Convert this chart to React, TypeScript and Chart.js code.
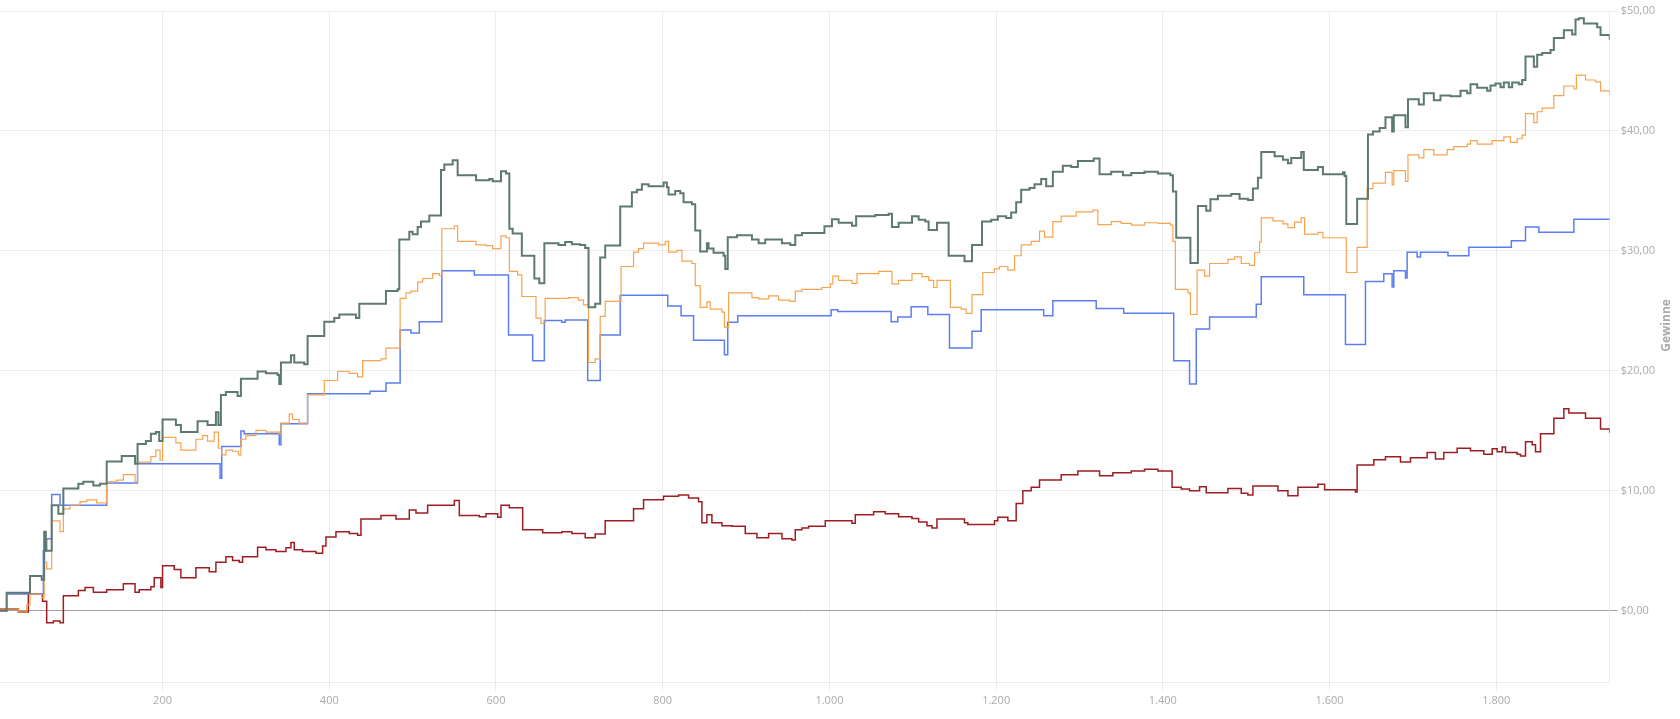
import { useEffect, useRef } from 'react';
import { Chart, registerables, ChartConfiguration, Plugin } from 'chart.js';

Chart.register(...registerables);

// cumulative profit per trade number as [trade, value] step points
const totalProfit: [number, number][] = [
  [5, 0], [13, 1.5], [41, 2.9], [55, 2.6], [58, 6.6], [60, 5.0], [67, 8.8], [75, 8.1], [81, 10.2],
  [99, 10.6], [105, 10.75], [117, 10.45], [125, 10.6], [133, 12.45], [151, 12.9], [167, 12.25],
  [170, 13.9], [180, 14.15], [186, 14.75], [192, 14.9], [196, 14.15], [200, 15.95], [216, 15.5],
  [222, 14.9], [242, 15.8], [254, 15.5], [264, 16.55], [267, 15.5], [270, 18.0], [276, 18.25],
  [290, 17.9], [294, 19.35], [314, 19.95], [324, 19.8], [338, 19.65], [340, 18.9], [342, 20.7],
  [354, 21.3], [358, 20.7], [370, 20.55], [374, 22.9], [394, 24.1], [406, 24.4], [412, 24.7],
  [432, 24.4], [436, 25.6], [468, 26.65], [482, 26.8], [484, 30.95], [496, 31.6], [500, 31.4],
  [506, 32.0], [510, 32.45], [520, 32.95], [534, 36.75], [538, 37.2], [548, 37.55], [554, 36.3],
  [576, 35.9], [592, 36.0], [596, 35.8], [606, 36.65], [612, 36.45], [616, 31.85], [620, 31.45],
  [631, 29.6], [646, 27.7], [652, 27.3], [658, 30.65], [675, 30.5], [683, 30.75], [691, 30.55],
  [701, 30.5], [707, 30.25], [711, 25.3], [719, 25.6], [725, 29.45], [731, 30.45], [749, 33.7],
  [763, 34.9], [769, 35.1], [775, 35.55], [783, 35.4], [801, 35.7], [805, 35.3], [807, 34.7],
  [815, 35.0], [821, 34.8], [825, 34.05], [835, 33.9], [839, 31.7], [845, 29.95], [853, 30.65],
  [855, 30.2], [861, 29.85], [873, 29.6], [875, 28.5], [878, 31.15], [889, 31.3], [907, 30.95],
  [915, 30.65], [923, 30.95], [943, 30.65], [953, 30.5], [959, 31.3], [967, 31.5], [994, 32.05],
  [1003, 32.65], [1011, 32.35], [1027, 32.1], [1032, 32.9], [1055, 33.0], [1071, 33.1],
  [1075, 32.0], [1083, 32.35], [1099, 32.9], [1107, 32.6], [1115, 32.45], [1119, 31.75],
  [1129, 32.35], [1143, 29.6], [1162, 29.15], [1171, 30.5], [1183, 32.45], [1194, 32.6],
  [1202, 32.9], [1212, 32.75], [1218, 33.2], [1224, 34.05], [1230, 35.1], [1240, 35.25],
  [1246, 35.55], [1254, 36.0], [1260, 35.4], [1268, 36.6], [1280, 37.1], [1290, 37.0],
  [1298, 37.5], [1317, 37.7], [1324, 36.4], [1338, 36.6], [1352, 36.3], [1362, 36.5],
  [1378, 36.6], [1394, 36.45], [1409, 36.3], [1412, 34.95], [1416, 31.1], [1433, 29.0],
  [1442, 33.75], [1452, 33.35], [1457, 34.3], [1466, 34.6], [1482, 34.75], [1492, 34.35],
  [1502, 34.25], [1508, 35.2], [1514, 36.1], [1518, 38.25], [1534, 37.9], [1544, 37.6],
  [1550, 37.3], [1554, 37.75], [1566, 38.25], [1569, 36.75], [1586, 37.0], [1592, 36.4],
  [1616, 36.55], [1618, 36.25], [1620, 32.25], [1633, 34.35], [1646, 39.7], [1652, 39.95],
  [1660, 40.25], [1667, 41.15], [1675, 39.95], [1677, 41.3], [1691, 40.3], [1694, 42.65],
  [1707, 42.2], [1713, 43.15], [1725, 42.55], [1733, 42.95], [1745, 42.9], [1757, 43.35],
  [1765, 43.15], [1769, 43.9], [1777, 43.6], [1789, 43.35], [1793, 43.8], [1799, 43.95],
  [1805, 43.65], [1809, 44.05], [1815, 43.65], [1819, 44.05], [1827, 43.9], [1831, 44.25],
  [1835, 46.2], [1845, 45.35], [1849, 46.35], [1855, 46.5], [1865, 46.75], [1869, 47.75],
  [1881, 48.4], [1891, 48.05], [1895, 49.3], [1899, 49.4], [1905, 48.95], [1921, 48.65],
  [1925, 48.0], [1936, 47.6],
];

const orangeProfit: [number, number][] = [
  [5, 0.15], [27, -0.1], [37, 0.5], [41, 1.4], [55, 1.1], [58, 4.05], [61, 3.5], [67, 7.5],
  [77, 6.6], [81, 8.5], [89, 8.8], [101, 9.1], [109, 9.25], [121, 9.0], [133, 10.75],
  [145, 10.9], [153, 11.35], [167, 10.75], [170, 12.4], [186, 12.85], [192, 13.4], [197, 12.55],
  [200, 14.45], [216, 14.0], [222, 13.4], [240, 14.3], [248, 14.6], [254, 14.15], [262, 14.9],
  [267, 13.55], [271, 13.0], [276, 13.4], [284, 13.3], [291, 13.0], [294, 14.3], [300, 14.6],
  [312, 15.05], [324, 14.9], [340, 14.75], [342, 15.65], [352, 16.4], [356, 15.95], [364, 15.65],
  [374, 18.0], [394, 19.2], [410, 19.95], [424, 19.8], [434, 19.5], [440, 20.85], [462, 21.0],
  [468, 21.9], [485, 26.05], [492, 26.5], [498, 26.65], [506, 27.4], [512, 27.7], [524, 28.1],
  [532, 27.95], [535, 31.85], [550, 32.1], [554, 30.8], [576, 30.5], [588, 30.45], [596, 30.2],
  [606, 31.25], [612, 31.1], [616, 28.3], [626, 28.0], [631, 26.2], [648, 24.4], [654, 23.95],
  [659, 26.05], [687, 26.1], [699, 25.9], [705, 25.5], [711, 20.7], [719, 21.0], [725, 24.55],
  [731, 25.8], [750, 28.7], [765, 29.9], [771, 30.2], [777, 30.65], [795, 30.5], [803, 30.8],
  [807, 29.9], [817, 30.05], [823, 29.15], [835, 28.95], [839, 27.1], [845, 25.3], [853, 25.75],
  [857, 25.15], [871, 24.9], [874, 23.65], [879, 26.5], [907, 26.1], [915, 26.0], [927, 26.25],
  [939, 25.9], [953, 25.8], [959, 26.65], [967, 26.8], [991, 26.95], [1001, 27.25], [1004, 27.9],
  [1011, 27.55], [1027, 27.3], [1033, 28.1], [1059, 28.3], [1075, 27.25], [1083, 27.55],
  [1099, 28.1], [1111, 27.85], [1119, 27.55], [1125, 26.95], [1129, 27.55], [1145, 25.3],
  [1158, 25.15], [1164, 24.8], [1171, 26.35], [1184, 28.2], [1198, 28.5], [1204, 28.7],
  [1214, 28.4], [1222, 29.6], [1230, 30.5], [1242, 30.8], [1252, 31.65], [1258, 31.15],
  [1268, 32.45], [1278, 32.9], [1296, 33.25], [1316, 33.4], [1322, 32.2], [1338, 32.45],
  [1350, 32.3], [1362, 32.15], [1378, 32.35], [1394, 32.3], [1409, 32.15], [1412, 30.8],
  [1415, 26.8], [1430, 26.5], [1433, 24.7], [1441, 28.4], [1450, 27.9], [1456, 28.95],
  [1478, 29.3], [1486, 29.5], [1494, 28.95], [1504, 28.8], [1510, 29.85], [1516, 30.75],
  [1518, 32.75], [1532, 32.5], [1544, 32.25], [1550, 31.95], [1558, 32.4], [1566, 32.75],
  [1570, 31.4], [1586, 31.55], [1592, 31.1], [1620, 28.2], [1633, 30.3], [1645, 35.2],
  [1652, 35.65], [1667, 36.55], [1675, 35.5], [1677, 36.7], [1691, 35.8], [1694, 38.0],
  [1707, 37.75], [1713, 38.45], [1725, 38.0], [1741, 38.45], [1749, 38.7], [1765, 38.9],
  [1769, 39.2], [1777, 38.9], [1795, 39.2], [1809, 39.5], [1817, 39.05], [1825, 39.35],
  [1831, 39.65], [1835, 41.45], [1845, 40.7], [1849, 41.6], [1855, 41.9], [1869, 42.95],
  [1881, 43.75], [1893, 43.5], [1896, 44.65], [1907, 44.25], [1919, 44.1], [1925, 43.35],
  [1936, 43.0],
];

const blueProfit: [number, number][] = [
  [5, 0], [13, 1.4], [57, 5.0], [61, 6.0], [67, 9.7], [77, 8.8], [133, 10.65], [170, 12.25],
  [269, 11.05], [271, 13.7], [294, 15.0], [298, 14.75], [340, 13.85], [342, 15.6], [374, 18.1],
  [449, 18.3], [468, 19.0], [485, 23.4], [498, 23.15], [508, 24.1], [535, 28.35], [574, 28.0],
  [615, 23.0], [644, 20.85], [658, 24.2], [679, 24.05], [683, 24.25], [710, 19.2], [725, 23.0],
  [749, 26.3], [806, 25.4], [822, 24.6], [837, 22.55], [874, 21.35], [878, 24.05], [890, 24.6],
  [1002, 25.1], [1010, 24.95], [1074, 24.1], [1082, 24.5], [1098, 25.35], [1118, 24.7],
  [1144, 21.9], [1171, 23.3], [1182, 25.1], [1257, 24.6], [1268, 25.85], [1320, 25.2],
  [1353, 24.8], [1413, 20.85], [1432, 18.9], [1440, 23.5], [1456, 24.5], [1512, 25.55],
  [1518, 27.85], [1569, 26.35], [1619, 22.2], [1643, 27.45], [1665, 28.1], [1675, 27.0],
  [1677, 28.35], [1691, 27.75], [1693, 29.9], [1705, 29.5], [1709, 29.9], [1742, 29.6],
  [1767, 30.3], [1818, 30.85], [1835, 32.0], [1851, 31.55], [1893, 32.65], [1936, 32.65],
];

const redProfit: [number, number][] = [
  [5, 0.15], [27, -0.1], [39, 1.4], [56, 0.8], [61, -1.0], [69, -0.85], [77, -1.0], [81, 1.25],
  [99, 1.7], [107, 1.95], [117, 1.55], [133, 1.75], [153, 2.25], [167, 1.55], [172, 1.75],
  [186, 2.0], [190, 2.75], [198, 1.95], [200, 3.75], [214, 3.45], [222, 2.75], [240, 3.6],
  [256, 3.25], [264, 4.05], [276, 4.5], [284, 4.2], [292, 4.05], [296, 4.5], [314, 5.3],
  [324, 5.1], [336, 4.95], [348, 5.25], [354, 5.7], [358, 5.1], [368, 4.95], [384, 4.8],
  [392, 5.4], [396, 6.15], [408, 6.6], [424, 6.45], [434, 6.3], [438, 7.65], [462, 7.95],
  [480, 7.65], [496, 8.4], [504, 8.15], [518, 8.8], [550, 9.2], [556, 7.95], [580, 7.85],
  [588, 8.1], [602, 7.8], [606, 8.8], [616, 8.6], [632, 6.75], [656, 6.5], [679, 6.6],
  [691, 6.45], [707, 6.1], [719, 6.4], [731, 7.5], [765, 8.5], [777, 9.25], [801, 9.55],
  [819, 9.65], [831, 9.4], [843, 9.1], [847, 7.35], [853, 8.0], [859, 7.35], [871, 7.1],
  [883, 7.05], [899, 6.45], [913, 6.1], [927, 6.45], [943, 6.0], [955, 5.9], [959, 6.75],
  [967, 6.9], [975, 7.05], [995, 7.5], [1027, 7.3], [1031, 8.0], [1053, 8.25], [1067, 8.1],
  [1083, 7.85], [1099, 7.7], [1107, 7.4], [1117, 7.1], [1123, 6.9], [1129, 7.65], [1162, 7.35],
  [1166, 7.2], [1198, 7.5], [1202, 7.8], [1214, 7.5], [1224, 8.95], [1232, 10.0], [1242, 10.3],
  [1252, 10.9], [1278, 11.35], [1298, 11.65], [1324, 11.25], [1340, 11.5], [1362, 11.65],
  [1378, 11.8], [1394, 11.65], [1411, 10.3], [1422, 10.15], [1432, 10.0], [1444, 10.35],
  [1452, 9.85], [1478, 10.2], [1494, 9.8], [1502, 9.65], [1508, 10.4], [1538, 10.0],
  [1550, 9.6], [1562, 10.3], [1586, 10.55], [1594, 10.1], [1631, 9.9], [1633, 12.15],
  [1653, 12.6], [1667, 12.85], [1685, 12.4], [1697, 12.75], [1717, 13.2], [1727, 12.65],
  [1737, 13.2], [1753, 13.55], [1769, 13.35], [1785, 13.05], [1795, 13.5], [1801, 13.25],
  [1807, 13.65], [1811, 13.2], [1825, 13.05], [1829, 12.9], [1835, 14.1], [1843, 13.85],
  [1847, 13.25], [1853, 14.75], [1869, 16.05], [1881, 16.85], [1887, 16.5], [1907, 16.05],
  [1925, 15.15], [1936, 14.85],
];

const xMin = 5;
const xMax = 1936;
const yMin = -6;
const yMax = 50;
const yTitle = 'Gewinne';

const toPoints = (rows: [number, number][]) => rows.map(([x, y]) => ({ x, y }));

const numberFmt = new Intl.NumberFormat('de-DE');
const moneyFmt = new Intl.NumberFormat('de-DE', { minimumFractionDigits: 2, maximumFractionDigits: 2 });

// y-axis title reads bottom-to-top on the right side, which the built-in title can't do
const axisTitle: Plugin<'line'> = {
  id: 'axisTitle',
  afterDraw(chart) {
    const { ctx, chartArea } = chart;
    ctx.save();
    ctx.translate(chart.width - 13, chartArea.top + (chartArea.bottom - chartArea.top) * 0.468);
    ctx.rotate(-Math.PI / 2);
    ctx.textAlign = 'center';
    ctx.textBaseline = 'middle';
    ctx.font = "bold 12px 'Open Sans', 'Noto Sans', sans-serif";
    ctx.fillStyle = '#aaaaaa';
    ctx.fillText(yTitle, 0, 0);
    ctx.restore();
  },
};

const App = () => {
  const chartRef = useRef<HTMLCanvasElement>(null);
  const chartInstance = useRef<Chart | null>(null);

  useEffect(() => {
    document.body.style.margin = '0';
    if (!chartRef.current) return;

    const ctx = chartRef.current.getContext('2d');
    if (!ctx) return;

    const line = (data: [number, number][], color: string, width: number) => ({
      data: toPoints(data),
      borderColor: color,
      backgroundColor: color,
      borderWidth: width,
      pointRadius: 0,
      stepped: true,
      fill: false,
    });

    const config: ChartConfiguration<'line'> = {
      type: 'line',
      data: {
        datasets: [
          line(totalProfit, '#5e7a6e', 2),
          line(orangeProfit, '#f6a450', 1.2),
          line(blueProfit, '#5b7ef2', 1.5),
          line(redProfit, '#9e1d22', 1.5),
        ],
      },
      options: {
        animation: false,
        responsive: true,
        maintainAspectRatio: false,
        layout: {
          padding: { top: 11, bottom: 9, left: 0, right: 22 },
        },
        plugins: {
          legend: { display: false },
          tooltip: { enabled: false },
        },
        scales: {
          x: {
            type: 'linear',
            min: xMin,
            max: xMax,
            grid: { color: '#ececec' },
            border: { color: '#ececec' },
            ticks: {
              stepSize: 200,
              includeBounds: false,
              color: '#aaaaaa',
              font: { size: 11 },
              maxRotation: 0,
              callback: (value) => numberFmt.format(Number(value)),
            },
          },
          y: {
            position: 'right',
            min: yMin,
            max: yMax,
            grid: {
              color: (c) => (c.tick && c.tick.value === 0 ? '#a0a0a0' : '#ececec'),
            },
            border: { color: '#ececec' },
            ticks: {
              stepSize: 10,
              includeBounds: false,
              color: '#aaaaaa',
              font: { size: 11 },
              callback: (value) => '$' + moneyFmt.format(Number(value)),
            },
          },
        },
      },
      plugins: [axisTitle],
    };

    if (chartInstance.current) {
      chartInstance.current.destroy();
    }

    chartInstance.current = new Chart(ctx, config);

    return () => {
      if (chartInstance.current) {
        chartInstance.current.destroy();
        chartInstance.current = null;
      }
    };
  }, []);

  Chart.defaults.font.family = "'Open Sans', 'Noto Sans', sans-serif";

  return (
    <div style={{ width: '1680px', height: '719px', position: 'relative', background: '#fff' }}>
      <canvas ref={chartRef} />
    </div>
  );
};

export default App;
